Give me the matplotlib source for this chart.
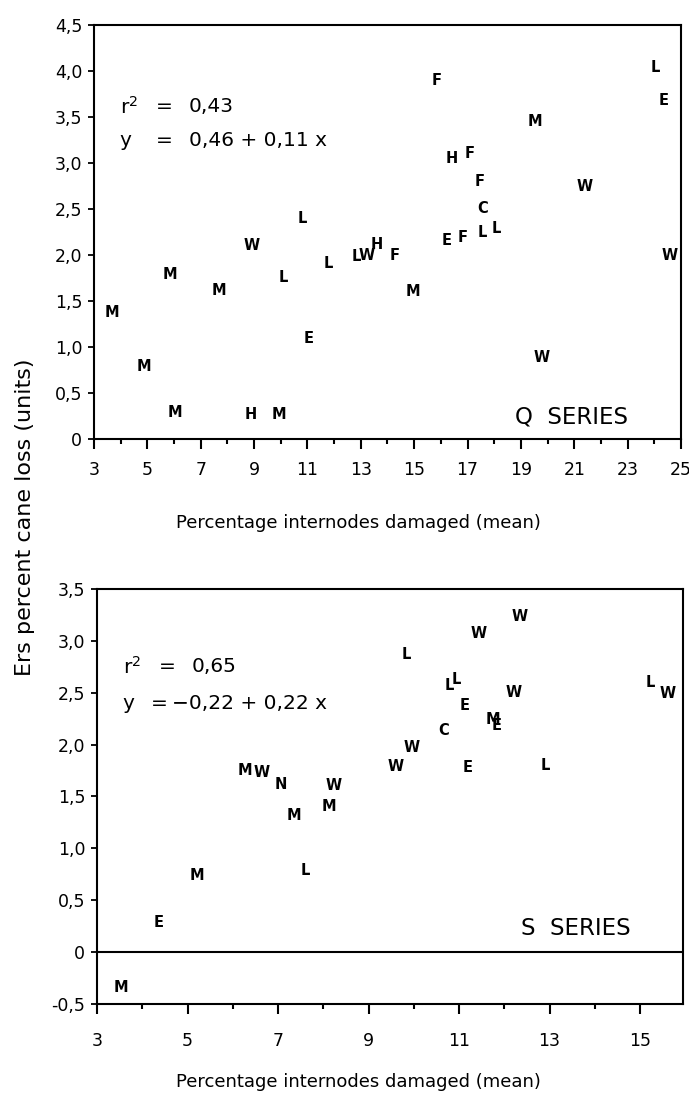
import matplotlib
matplotlib.use("Agg")
import matplotlib.pyplot as plt
from matplotlib.ticker import FixedLocator, FixedFormatter

plt.rcParams["font.family"] = ["DejaVu Sans"]

# ---------------------------------------------------------
# data (letter = treatment code)
# ---------------------------------------------------------
q_codes = ["M", "M", "M", "M", "M", "W", "H", "M", "L", "L", "E", "L",
           "L", "W", "H", "F", "M", "F", "H", "F", "F", "C", "E", "F",
           "L", "L", "M", "W", "W", "L", "E", "W"]
q_x = [3.67, 4.87, 6.03, 5.85, 7.68, 8.90, 8.88, 9.93, 10.08, 10.79, 11.05, 11.80,
       12.85, 13.22, 13.60, 14.27, 14.95, 15.85, 16.40, 17.08, 17.46, 17.57, 16.22, 16.82,
       17.57, 18.09, 19.52, 21.39, 19.78, 24.05, 24.35, 24.57]
q_y = [1.37, 0.79, 0.29, 1.79, 1.61, 2.10, 0.27, 0.27, 1.76, 2.40, 1.09, 1.91,
       1.98, 2.00, 2.11, 2.00, 1.60, 3.90, 3.05, 3.10, 2.80, 2.51, 2.16, 2.19,
       2.25, 2.29, 3.45, 2.74, 0.89, 4.04, 3.68, 2.00]

s_codes = ["M", "E", "M", "M", "W", "N", "M", "L", "W", "M", "W", "W", "L",
           "W", "W", "L", "L", "E", "W", "C", "M", "E", "E", "L", "L", "W"]
s_x = [3.53, 4.37, 5.20, 6.26, 6.63, 7.07, 7.36, 7.60, 8.24, 8.13, 9.61, 9.96, 9.83,
       11.44, 12.34, 10.78, 10.95, 11.13, 12.20, 10.67, 11.74, 11.83, 11.19, 12.91, 15.22, 15.60]
s_y = [-0.34, 0.29, 0.74, 1.75, 1.73, 1.62, 1.32, 0.79, 1.61, 1.40, 1.79, 1.97, 2.87,
       3.07, 3.23, 2.57, 2.63, 2.38, 2.50, 2.14, 2.24, 2.18, 1.78, 1.80, 2.60, 2.49]

q_xticks = [3, 5, 7, 9, 11, 13, 15, 17, 19, 21, 23, 25]
q_yticks = [0, 0.5, 1.0, 1.5, 2.0, 2.5, 3.0, 3.5, 4.0, 4.5]
q_ylabels = ["0", "0,5", "1,0", "1,5", "2,0", "2,5", "3,0", "3,5", "4,0", "4,5"]

s_xticks = [3, 5, 7, 9, 11, 13, 15]
s_yticks = [-0.5, 0, 0.5, 1.0, 1.5, 2.0, 2.5, 3.0, 3.5]
s_ylabels = ["-0,5", "0", "0,5", "1,0", "1,5", "2,0", "2,5", "3,0", "3,5"]

q_fit = ["r$^2$", "=", "0,43", "y", "=", "0,46 + 0,11 x"]
s_fit = ["r$^2$", "=", "0,65", "y", "=", "\u22120,22 + 0,22 x"]


def style_axis(ax, xticks, yticks, ylabels, xpad):
    ax.xaxis.set_major_locator(FixedLocator(xticks))
    ax.xaxis.set_major_formatter(FixedFormatter([str(t) for t in xticks]))
    ax.xaxis.set_minor_locator(FixedLocator([t + 1 for t in xticks[:-1]]))
    ax.yaxis.set_major_locator(FixedLocator(yticks))
    ax.yaxis.set_major_formatter(FixedFormatter(ylabels))
    ax.tick_params(axis="x", which="major", direction="out", length=7,
                   width=1.5, labelsize=12.5, pad=xpad)
    ax.tick_params(axis="x", which="minor", direction="out", length=3.5, width=1.5)
    ax.tick_params(axis="y", direction="out", length=4.5, width=1.3,
                   labelsize=12.5, pad=4)
    for sp in ax.spines.values():
        sp.set_linewidth(1.5)


def draw_letters(ax, codes, xs, ys):
    for c, x, y in zip(codes, xs, ys):
        ax.text(x, y, c, ha="center", va="center", fontsize=10.5,
                fontweight="bold")


def draw_fit(ax, parts, y1, y2, eq_x1, eq_x2):
    ax.text(0.044, y1, parts[0], transform=ax.transAxes, fontsize=14.5, va="center")
    ax.text(0.105, y1, parts[1], transform=ax.transAxes, fontsize=14.5, va="center")
    ax.text(0.162, y1, parts[2], transform=ax.transAxes, fontsize=14.5, va="center")
    ax.text(0.044, y2, parts[3], transform=ax.transAxes, fontsize=14.5, va="center")
    ax.text(eq_x1, y2, parts[4], transform=ax.transAxes, fontsize=14.5, va="center")
    ax.text(eq_x2, y2, parts[5], transform=ax.transAxes, fontsize=14.5, va="center")


fig = plt.figure(figsize=(6.89, 10.98), dpi=100)

# top panel: Q series
ax1 = fig.add_axes([0.1364, 0.6002, 0.852, 0.377])
ax1.set_xlim(3, 25)
ax1.set_ylim(0, 4.5)
style_axis(ax1, q_xticks, q_yticks, q_ylabels, xpad=8.5)
draw_letters(ax1, q_codes, q_x, q_y)
draw_fit(ax1, q_fit, 0.802, 0.722, 0.105, 0.162)
ax1.text(0.91, 0.053, "Q  SERIES", transform=ax1.transAxes, fontsize=16.5,
         ha="right", va="center")

# bottom panel: S series
ax2 = fig.add_axes([0.1408, 0.0856, 0.8505, 0.378])
ax2.set_xlim(3, 15.95)
ax2.set_ylim(-0.5, 3.5)
style_axis(ax2, s_xticks, s_yticks, s_ylabels, xpad=13.5)
ax2.axhline(0, color="black", lw=1.5)
draw_letters(ax2, s_codes, s_x, s_y)
draw_fit(ax2, s_fit, 0.812, 0.725, 0.092, 0.128)
ax2.text(0.91, 0.183, "S  SERIES", transform=ax2.transAxes, fontsize=16.5,
         ha="right", va="center")

fig.text(0.52, 1 - 523 / 1098, "Percentage internodes damaged (mean)",
         ha="center", va="center", fontsize=13)
fig.text(0.52, 1 - 1082 / 1098, "Percentage internodes damaged (mean)",
         ha="center", va="center", fontsize=13)
fig.text(25 / 689, 1 - 517 / 1098, "Ers percent cane loss (units)",
         rotation=90, ha="center", va="center", fontsize=16)

fig.savefig("out.png", dpi=100)
